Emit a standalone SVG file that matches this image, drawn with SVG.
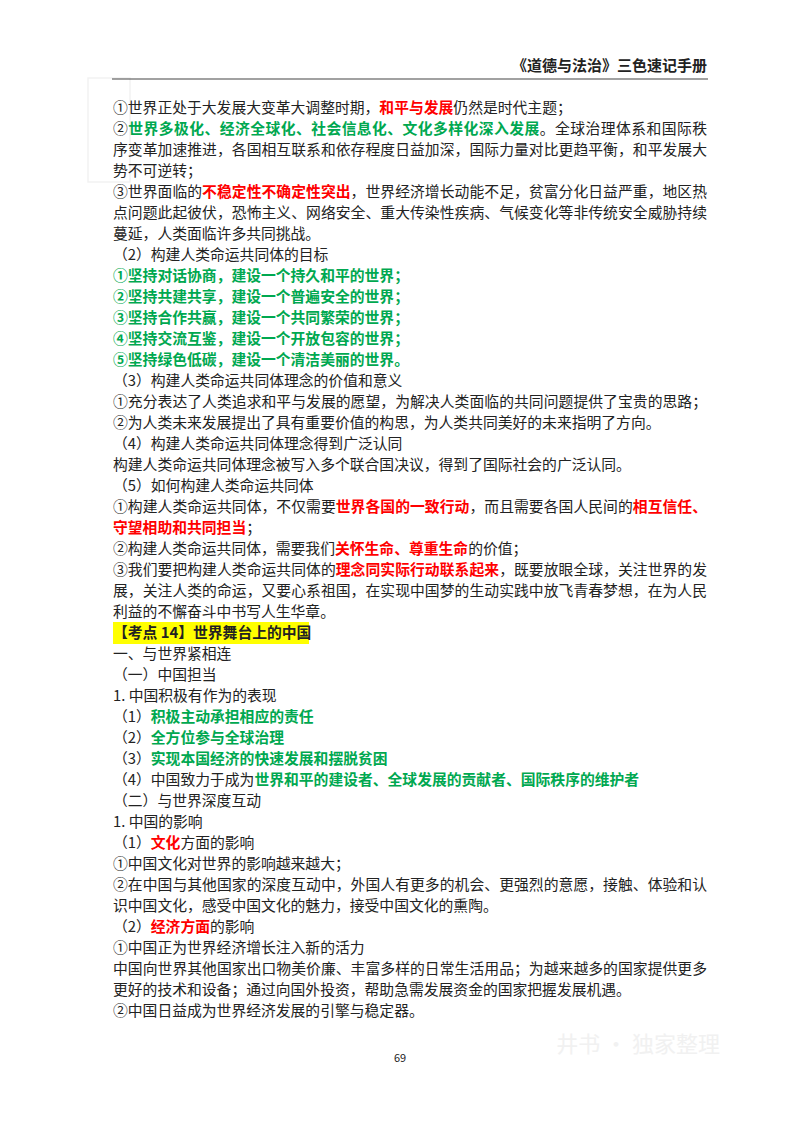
<svg xmlns="http://www.w3.org/2000/svg" width="800" height="1132" viewBox="0 0 800 1132">
<style>
text{font-family:"Noto Sans CJK SC","Noto Sans",sans-serif;font-size:14.8px;fill:#222}
.r{fill:#ff0000;font-weight:bold}
.g{fill:#00a850;font-weight:bold}
</style>
<rect width="800" height="1132" fill="#fff"/>
<g id="watermark" opacity="0.5">
<rect x="88" y="78" width="42" height="104" fill="none" stroke="#e6e6e6" stroke-width="1.5"/>
<text x="720" y="1052" text-anchor="end" style="font-size:22px;fill:#e4e4e4">井书 · 独家整理</text>
</g>
<g id="header">
<text x="707" y="71" text-anchor="end" style="font-weight:bold;font-size:15px">《道德与法治》三色速记手册</text>
<line x1="112" y1="79" x2="708" y2="79" stroke="#444" stroke-width="1.2"/>
</g>
<rect x="113" y="622" width="196" height="22" fill="#ffff00"/>
<g id="body">
<text x="113" y="113">①世界正处于大发展大变革大调整时期，<tspan class="r">和平与发展</tspan>仍然是时代主题；</text>
<text x="113" y="134" textLength="594" lengthAdjust="spacing">②<tspan class="g">世界多极化、经济全球化、社会信息化、文化多样化深入发展</tspan>。全球治理体系和国际秩</text>
<text x="113" y="155" textLength="594" lengthAdjust="spacing">序变革加速推进，各国相互联系和依存程度日益加深，国际力量对比更趋平衡，和平发展大</text>
<text x="113" y="176">势不可逆转；</text>
<text x="113" y="197" textLength="594" lengthAdjust="spacing">③世界面临的<tspan class="r">不稳定性不确定性突出</tspan>，世界经济增长动能不足，贫富分化日益严重，地区热</text>
<text x="113" y="218" textLength="594" lengthAdjust="spacing">点问题此起彼伏，恐怖主义、网络安全、重大传染性疾病、气候变化等非传统安全威胁持续</text>
<text x="113" y="239">蔓延，人类面临许多共同挑战。</text>
<text x="113" y="260">（2）构建人类命运共同体的目标</text>
<text x="113" y="281" class="g">①坚持对话协商，建设一个持久和平的世界；</text>
<text x="113" y="302" class="g">②坚持共建共享，建设一个普遍安全的世界；</text>
<text x="113" y="323" class="g">③坚持合作共赢，建设一个共同繁荣的世界；</text>
<text x="113" y="344" class="g">④坚持交流互鉴，建设一个开放包容的世界；</text>
<text x="113" y="365" class="g">⑤坚持绿色低碳，建设一个清洁美丽的世界。</text>
<text x="113" y="386">（3）构建人类命运共同体理念的价值和意义</text>
<text x="113" y="407" textLength="594" lengthAdjust="spacing">①充分表达了人类追求和平与发展的愿望，为解决人类面临的共同问题提供了宝贵的思路；</text>
<text x="113" y="428">②为人类未来发展提出了具有重要价值的构思，为人类共同美好的未来指明了方向。</text>
<text x="113" y="449">（4）构建人类命运共同体理念得到广泛认同</text>
<text x="113" y="470">构建人类命运共同体理念被写入多个联合国决议，得到了国际社会的广泛认同。</text>
<text x="113" y="491">（5）如何构建人类命运共同体</text>
<text x="113" y="512" textLength="594" lengthAdjust="spacing">①构建人类命运共同体，不仅需要<tspan class="r">世界各国的一致行动</tspan>，而且需要各国人民间的<tspan class="r">相互信任、</tspan></text>
<text x="113" y="533"><tspan class="r">守望相助和共同担当</tspan>；</text>
<text x="113" y="554">②构建人类命运共同体，需要我们<tspan class="r">关怀生命、尊重生命</tspan>的价值；</text>
<text x="113" y="575" textLength="594" lengthAdjust="spacing">③我们要把构建人类命运共同体的<tspan class="r">理念同实际行动联系起来</tspan>，既要放眼全球，关注世界的发</text>
<text x="113" y="596" textLength="594" lengthAdjust="spacing">展，关注人类的命运，又要心系祖国，在实现中国梦的生动实践中放飞青春梦想，在为人民</text>
<text x="113" y="617">利益的不懈奋斗中书写人生华章。</text>
<text x="113" y="638" style="font-weight:bold">【考点 14】世界舞台上的中国</text>
<text x="113" y="659">一、与世界紧相连</text>
<text x="113" y="680">（一）中国担当</text>
<text x="113" y="701">1. 中国积极有作为的表现</text>
<text x="113" y="722">（1）<tspan class="g">积极主动承担相应的责任</tspan></text>
<text x="113" y="743">（2）<tspan class="g">全方位参与全球治理</tspan></text>
<text x="113" y="764">（3）<tspan class="g">实现本国经济的快速发展和摆脱贫困</tspan></text>
<text x="113" y="785">（4）中国致力于成为<tspan class="g">世界和平的建设者、全球发展的贡献者、国际秩序的维护者</tspan></text>
<text x="113" y="806">（二）与世界深度互动</text>
<text x="113" y="827">1. 中国的影响</text>
<text x="113" y="848">（1）<tspan class="r">文化</tspan>方面的影响</text>
<text x="113" y="869">①中国文化对世界的影响越来越大；</text>
<text x="113" y="890" textLength="594" lengthAdjust="spacing">②在中国与其他国家的深度互动中，外国人有更多的机会、更强烈的意愿，接触、体验和认</text>
<text x="113" y="911">识中国文化，感受中国文化的魅力，接受中国文化的熏陶。</text>
<text x="113" y="932">（2）<tspan class="r">经济方面</tspan>的影响</text>
<text x="113" y="953">①中国正为世界经济增长注入新的活力</text>
<text x="113" y="974" textLength="594" lengthAdjust="spacing">中国向世界其他国家出口物美价廉、丰富多样的日常生活用品；为越来越多的国家提供更多</text>
<text x="113" y="995">更好的技术和设备；通过向国外投资，帮助急需发展资金的国家把握发展机遇。</text>
<text x="113" y="1016">②中国日益成为世界经济发展的引擎与稳定器。</text>
</g>
<text x="400" y="1062" text-anchor="middle" style="font-size:11px">69</text>
</svg>
